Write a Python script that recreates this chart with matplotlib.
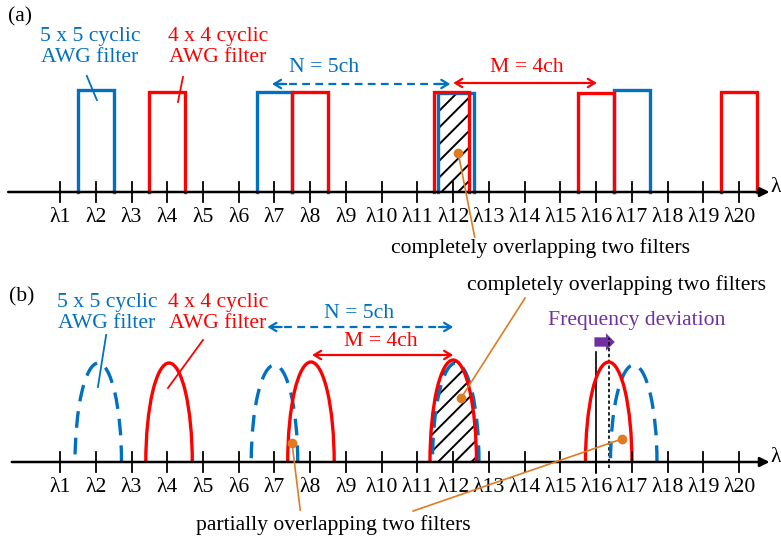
import numpy as np
import matplotlib
matplotlib.use('Agg')
import matplotlib.pyplot as plt
from matplotlib.patches import Arc, Ellipse, Rectangle, FancyArrowPatch

plt.rcParams['font.family'] = ['Liberation Serif', 'DejaVu Serif']
plt.rcParams['hatch.linewidth'] = 1.4

BLUE = '#0070C0'
RED = '#FF0000'
ORANGE = '#E07B20'
PURPLE = '#7030A0'

# channel axis
channels = list(range(1, 21))
tick_labels = ['λ%d' % c for c in channels]

# (a) rectangular filters: centre channel, height
blue_rect_c = [2, 7, 12.07, 17]
blue_rect_h = [1.02, 1.0, 0.99, 1.02]
red_rect_c = [4, 8, 11.95, 16, 20]
red_rect_h = [1.0, 1.0, 1.0, 0.99, 1.0]
rect_w = 1.0

# (b) rounded filters: centre channel, height
blue_arch_c = [2.07, 7.0, 12.07, 17.05]
blue_arch_h = [0.99, 0.97, 0.99, 0.97]
red_arch_c = [4.05, 8.02, 12.0, 16.35]
red_arch_h = [0.99, 1.0, 1.02, 1.0]
arch_w = 0.65

XL = (-0.679, 21.17)
YL = (-0.78, 1.92)

fig = plt.figure(figsize=(7.81, 5.4), dpi=100)
ax_a = fig.add_axes([0, 0.5, 1, 0.5])
ax_b = fig.add_axes([0, 0, 1, 0.5])

FS = 15.6


def base_axis(ax, x0):
    ax.set_xlim(*XL)
    ax.set_ylim(*YL)
    ax.axis('off')
    ax.annotate('', xy=(20.85, 0), xytext=(x0, 0),
                arrowprops=dict(arrowstyle='-|>', color='black', lw=1.8,
                                mutation_scale=14, shrinkA=0, shrinkB=0),
                zorder=5)
    for c, lab in zip(channels, tick_labels):
        ax.plot([c, c], [-0.1, 0.1], color='black', lw=1.3, zorder=5)
        ax.text(c, -0.26, lab, ha='center', va='center', fontsize=FS)
    ax.text(20.88, 0.04, 'λ', ha='left', va='center', fontsize=FS)


def dashed_double_arrow(ax, x0, x1, y, color):
    ax.plot([x0 + 0.1, x1 - 0.1], [y, y], color=color, lw=1.6,
            ls=(0, (3.5, 2.4)))
    for a, b in [(x0 + 0.4, x0), (x1 - 0.4, x1)]:
        ax.annotate('', xy=(b, y), xytext=(a, y),
                    arrowprops=dict(arrowstyle='->,head_length=0.5,head_width=0.3',
                                    color=color, lw=1.6, shrinkA=0, shrinkB=0))


def double_arrow(ax, x0, x1, y, color):
    ax.annotate('', xy=(x1, y), xytext=(x0, y),
                arrowprops=dict(arrowstyle='<->,head_length=0.5,head_width=0.3',
                                color=color, lw=1.6, shrinkA=0, shrinkB=0))


def leader(ax, p0, p1, dot=True):
    ax.plot([p0[0], p1[0]], [p0[1], p1[1]], color=ORANGE, lw=1.2, zorder=6)
    if dot:
        ax.plot(p0[0], p0[1], 'o', color=ORANGE, ms=6, zorder=7)


# ---------------- (a) ----------------
ax = ax_a
base_axis(ax, -0.45)

# hatched overlap at channel 12
lo = max(blue_rect_c[2], red_rect_c[2]) - rect_w / 2
hi = min(blue_rect_c[2], red_rect_c[2]) + rect_w / 2
ax.add_patch(Rectangle((lo, 0), hi - lo, min(blue_rect_h[2], red_rect_h[2]),
                       facecolor='none', edgecolor='black', lw=0, hatch='//',
                       zorder=1))

for cs, hs, col in [(blue_rect_c, blue_rect_h, BLUE), (red_rect_c, red_rect_h, RED)]:
    for c, h in zip(cs, hs):
        l, r = c - rect_w / 2, c + rect_w / 2
        ax.plot([l, l, r, r], [0, h, h, 0], color=col, lw=2.4,
                solid_joinstyle='miter', zorder=3)

ax.text(-0.12, 1.75, '(a)', ha='center', va='center', fontsize=FS)
ax.text(1.84, 1.45, '5 x 5 cyclic\nAWG filter', ha='center', va='center',
        fontsize=FS, color=BLUE, linespacing=1.1)
ax.text(5.42, 1.45, '4 x 4 cyclic\nAWG filter', ha='center', va='center',
        fontsize=FS, color=RED, linespacing=1.1)
ax.plot([1.75, 2.03], [1.16, 0.92], color=BLUE, lw=1.3)
ax.plot([4.44, 4.30], [1.15, 0.90], color=RED, lw=1.3)

dashed_double_arrow(ax, 6.93, 11.92, 1.08, BLUE)
ax.text(8.39, 1.24, 'N = 5ch', ha='center', va='center', fontsize=FS, color=BLUE)
double_arrow(ax, 12.0, 16.02, 1.09, RED)
ax.text(14.07, 1.24, 'M = 4ch', ha='center', va='center', fontsize=FS, color=RED)

leader(ax, (12.14, 0.39), (12.6, -0.45))
ax.text(14.43, -0.56, 'completely overlapping two filters', ha='center',
        va='center', fontsize=FS)

# ---------------- (b) ----------------
ax = ax_b
base_axis(ax, -0.35)

# hatched area inside the overlapping pair at channel 12
clip = Rectangle((XL[0], 0), XL[1] - XL[0], 3, transform=ax.transData)
ell = Ellipse((red_arch_c[2], 0), 2 * arch_w, 2 * red_arch_h[2],
              facecolor='none', edgecolor='black', lw=0, hatch='//', zorder=1)
ax.add_patch(ell)
ell.set_clip_path(clip)

for c, h in zip(blue_arch_c, blue_arch_h):
    ax.add_patch(Arc((c, 0), 2 * arch_w, 2 * h, theta1=0, theta2=180,
                     color=BLUE, lw=2.4, ls=(0, (5, 3)), zorder=3))
for c, h in zip(red_arch_c, red_arch_h):
    ax.add_patch(Arc((c, 0), 2 * arch_w, 2 * h, theta1=0, theta2=180,
                     color=RED, lw=2.4, zorder=4))

ax.text(-0.06, 1.65, '(b)', ha='center', va='center', fontsize=FS)
ax.text(2.31, 1.49, '5 x 5 cyclic\nAWG filter', ha='center', va='center',
        fontsize=FS, color=BLUE, linespacing=1.1)
ax.text(5.42, 1.49, '4 x 4 cyclic\nAWG filter', ha='center', va='center',
        fontsize=FS, color=RED, linespacing=1.1)
ax.plot([2.29, 2.06], [1.27, 0.75], color=BLUE, lw=1.3)
ax.plot([5.0, 4.02], [1.22, 0.74], color=RED, lw=1.3)

dashed_double_arrow(ax, 6.8, 12.0, 1.35, BLUE)
ax.text(9.37, 1.49, 'N = 5ch', ha='center', va='center', fontsize=FS, color=BLUE)
double_arrow(ax, 8.05, 12.0, 1.07, RED)
ax.text(9.98, 1.20, 'M = 4ch', ha='center', va='center', fontsize=FS, color=RED)

# frequency deviation markers at channel 16
ax.plot([16, 16], [-0.11, 1.10], color='black', lw=1.2, zorder=2)
ax.plot([red_arch_c[3], red_arch_c[3]], [-0.06, 1.24], color='black', lw=1.2,
        ls=(0, (2, 1.5)), zorder=2)
ax.add_patch(FancyArrowPatch((15.95, 1.20), (16.52, 1.20),
                             arrowstyle='simple,head_length=0.45,head_width=0.9,tail_width=0.48',
                             mutation_scale=14, color=PURPLE, lw=0,
                             shrinkA=0, shrinkB=0))
ax.text(17.14, 1.41, 'Frequency deviation', ha='center', va='center',
        fontsize=FS, color=PURPLE)

leader(ax, (12.22, 0.64), (14.01, 1.64))
ax.text(16.58, 1.77, 'completely overlapping two filters', ha='center',
        va='center', fontsize=FS)
leader(ax, (7.49, 0.19), (7.72, -0.48))
leader(ax, (16.72, 0.23), (10.88, -0.49))
ax.text(8.64, -0.63, 'partially overlapping two filters', ha='center',
        va='center', fontsize=FS)

fig.savefig('out.png', dpi=100)
